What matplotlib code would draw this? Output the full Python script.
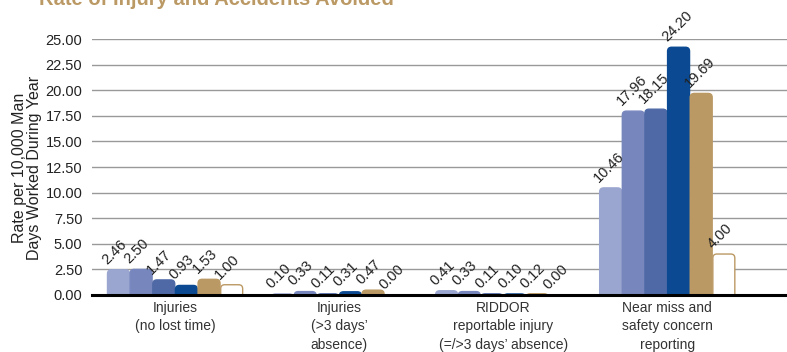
import numpy as np
import matplotlib.pyplot as plt
from matplotlib.patches import FancyBboxPatch

plt.rcParams['font.family'] = ['Liberation Sans', 'DejaVu Sans']

# Data
categories = ['Injuries\n(no lost time)',
              'Injuries\n(>3 days\u2019\nabsence)',
              'RIDDOR\nreportable injury\n(=/>3 days\u2019 absence)',
              'Near miss and\nsafety concern\nreporting']
series_1 = [2.46, 0.10, 0.41, 10.46]
series_2 = [2.50, 0.33, 0.33, 17.96]
series_3 = [1.47, 0.11, 0.11, 18.15]
series_4 = [0.93, 0.31, 0.10, 24.20]
series_5 = [1.53, 0.47, 0.12, 19.69]
series_6 = [1.00, 0.00, 0.00, 4.00]
yticks = np.arange(0, 25.01, 2.5)

series = [series_1, series_2, series_3, series_4, series_5, series_6]
faces = ['#9aa6cf', '#7787be', '#4e69a6', '#0b4a92', '#bb9964', 'white']
edges = ['#9aa6cf', '#7787be', '#4e69a6', '#0b4a92', '#bb9964', '#bb9964']
tan = '#bb9964'

fig = plt.figure(figsize=(7.87, 3.52), dpi=100)
ax = fig.add_axes([0.117, 0.162, 0.883, 0.727])
ax.set_xlim(-0.506, 3.73)
ax.set_ylim(0, 25)

# rounded tops: radius of ~4 px in both directions
px_x = 695 / (3.73 + 0.506)
px_y = 256 / 25
r = 4 / px_x
aspect = px_x / px_y

x = np.arange(len(categories))
w = 0.138
for i, vals in enumerate(series):
    pos = x + (i - 2.5) * w
    bars = ax.bar(pos, vals, width=w * 0.97, color='none', linewidth=0)
    for b, v in zip(bars, vals):
        if v > 0:
            # start below zero so the bottom corners are clipped away
            ax.add_patch(FancyBboxPatch(
                (b.get_x(), -1.5), b.get_width(), v + 1.5,
                boxstyle=f'round,pad=0,rounding_size={r}',
                mutation_aspect=aspect, facecolor=faces[i],
                edgecolor=edges[i], linewidth=1.0, zorder=3))
    for px, v in zip(pos, vals):
        ax.text(px - w * 0.42, v + 0.3, f'{v:.2f}', rotation=45,
                rotation_mode='anchor', ha='left', va='bottom',
                fontsize=10.5, color='#222222', zorder=4)

ax.set_yticks(yticks)
ax.set_yticklabels([f'{t:.2f}' for t in yticks], fontsize=10.5, color='#222222')
ax.yaxis.grid(True, color='#999999', linewidth=1.0, zorder=0)
ax.set_xticks(x)
ax.set_xticklabels(categories, fontsize=10, color='#333333', va='top',
                   linespacing=1.45)
ax.tick_params(axis='both', length=0, pad=4)
ax.tick_params(axis='y', pad=7)

for s in ['top', 'right', 'left']:
    ax.spines[s].set_visible(False)
ax.spines['bottom'].set_linewidth(2.2)
ax.spines['bottom'].set_color('black')
ax.spines['bottom'].set_zorder(5)

fig.text(27 / 787, 1 - 168 / 352, 'Rate per 10,000 Man\nDays Worked During Year',
         rotation=90, ha='center', va='center', fontsize=11.5,
         color='#222222', linespacing=0.95)

fig.text(0.05, 1 - 5 / 352, 'Rate of Injury and Accidents Avoided',
         fontsize=14.5, fontweight='bold', color=tan, ha='left', va='baseline')

fig.savefig('out.png', dpi=100)
